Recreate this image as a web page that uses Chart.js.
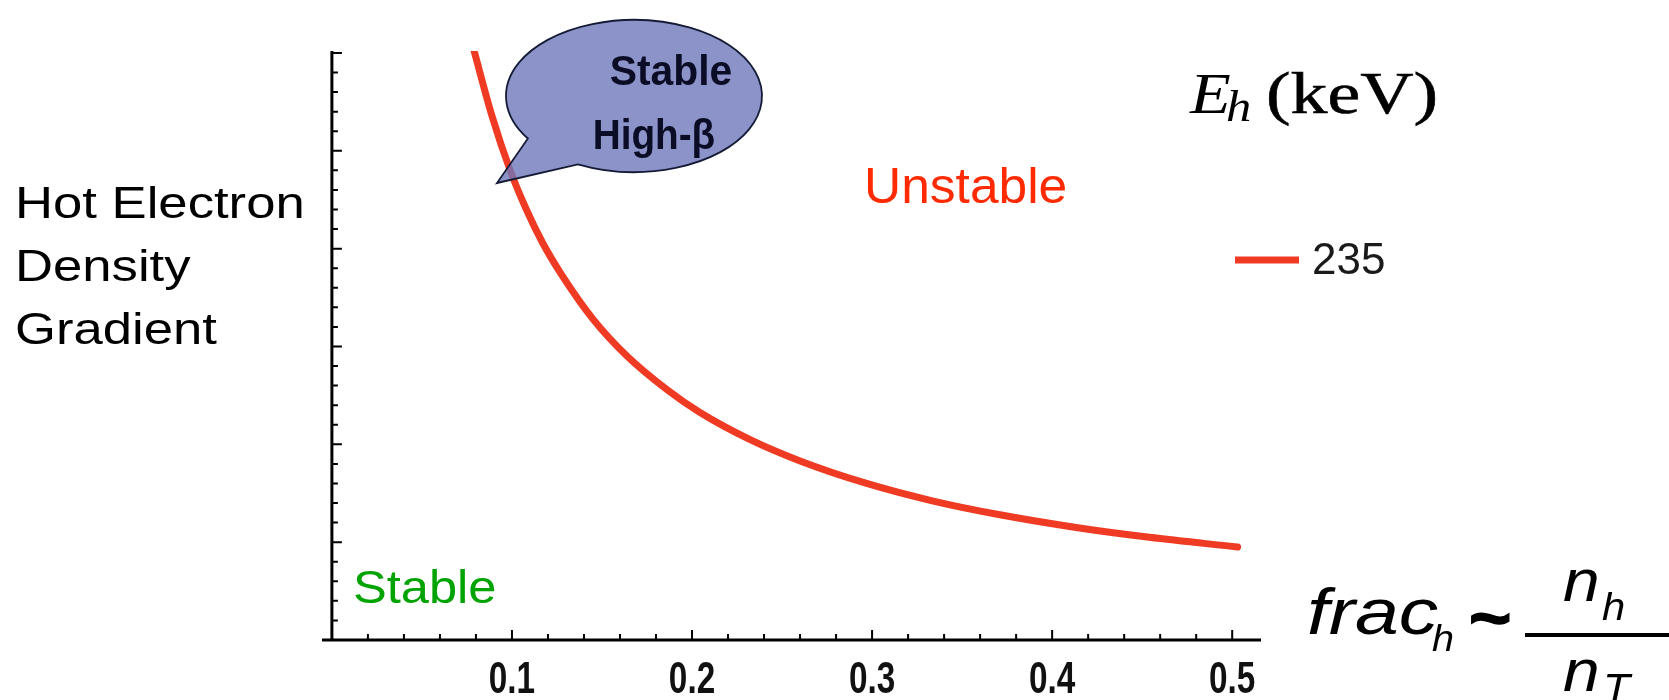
<!DOCTYPE html>
<html lang="en">
<head>
<meta charset="UTF-8">
<title>Hot Electron Density Gradient vs frac_h</title>
<script src="https://cdn.jsdelivr.net/npm/chart.js"></script>
<style>
  html, body { margin: 0; padding: 0; background: #fff; }
  #wrap { width: 1669px; height: 700px; }
</style>
</head>
<body>
<div id="wrap"><canvas id="chart" width="1669" height="700"></canvas></div>
<script>
// curve: x = frac_h, y = gradient (in units of the major y ticks, no labels shown)
const fracH = [0.079, 0.089, 0.099, 0.108, 0.117, 0.127, 0.145, 0.164, 0.186, 0.204, 0.232, 0.260, 0.297, 0.334, 0.371, 0.417, 0.454, 0.503];
const gradient = [6.02, 5.35, 4.80, 4.40, 4.06, 3.75, 3.28, 2.90, 2.56, 2.33, 2.05, 1.83, 1.60, 1.42, 1.28, 1.14, 1.05, 0.95];
const seriesLabels = ["235"];

// ticks
const xTickLabels = [0.1, 0.2, 0.3, 0.4, 0.5];
const xMinorTicks = [0.02, 0.04, 0.06, 0.08, 0.1, 0.12, 0.14, 0.16, 0.18, 0.2, 0.22, 0.24, 0.26, 0.28, 0.3,
                     0.32, 0.34, 0.36, 0.38, 0.4, 0.42, 0.44, 0.46, 0.48, 0.5];
const yMajorTicks = [1, 2, 3, 4, 5, 6];
const yMinorTicks = [0.2, 0.4, 0.6, 0.8, 1, 1.2, 1.4, 1.6, 1.8, 2, 2.2, 2.4, 2.6, 2.8, 3,
                     3.2, 3.4, 3.6, 3.8, 4, 4.2, 4.4, 4.6, 4.8, 5, 5.2, 5.4, 5.6, 5.8, 6];

const lineColor = '#ef3b24';
const sans = "'Liberation Sans', Arial, sans-serif";
const serif = "'Liberation Serif', 'Times New Roman', serif";

// text drawn with a horizontal scale (the picture is stretched sideways)
function stretchText(ctx, str, x, y, font, color, sx, align, stroke) {
    ctx.save();
    ctx.font = font;
    ctx.fillStyle = color;
    ctx.textAlign = align || 'left';
    ctx.textBaseline = 'alphabetic';
    ctx.translate(x, y);
    ctx.scale(sx, 1);
    ctx.fillText(str, 0, 0);
    if (stroke) {
        ctx.strokeStyle = color;
        ctx.lineWidth = stroke;
        ctx.strokeText(str, 0, 0);
    }
    ctx.restore();
}

// Mathematica style axes: crossing at the origin, ticks pointing inwards
const axesPlugin = {
    id: 'axes',
    beforeDatasetsDraw(chart) {
        const { ctx, chartArea, scales: { x, y } } = chart;
        const x0 = x.getPixelForValue(0);
        const y0 = y.getPixelForValue(0);
        ctx.save();
        ctx.strokeStyle = '#000';
        ctx.lineWidth = 3;
        ctx.beginPath();
        ctx.moveTo(chartArea.left, y0);
        ctx.lineTo(chartArea.right, y0);
        ctx.moveTo(x0, y0 + 1);
        ctx.lineTo(x0, chartArea.top);
        ctx.stroke();

        ctx.lineWidth = 2;
        ctx.beginPath();
        xMinorTicks.forEach(v => {
            const px = x.getPixelForValue(v);
            const len = xTickLabels.includes(v) ? 10 : 6;
            ctx.moveTo(px, y0);
            ctx.lineTo(px, y0 - len);
        });
        yMinorTicks.forEach(v => {
            const py = y.getPixelForValue(v);
            const len = yMajorTicks.includes(v) ? 10 : 6;
            ctx.moveTo(x0, py);
            ctx.lineTo(x0 + len, py);
        });
        ctx.stroke();
        ctx.restore();

        // condensed tick labels under the x axis
        xTickLabels.forEach(v => {
            stretchText(ctx, v.toFixed(1), x.getPixelForValue(v), 693, 'bold 45px ' + sans, '#111', 0.74, 'center');
        });
    }
};

// the "Stable High-β" speech bubble, half see-through over the curve
const bubblePlugin = {
    id: 'bubble',
    afterDatasetsDraw(chart) {
        const ctx = chart.ctx;
        const cx = 634, cy = 96, rx = 128, ry = 76;
        const tip = [497, 183];
        const a1 = 116 * Math.PI / 180;
        const a2 = 146 * Math.PI / 180;
        ctx.save();
        ctx.beginPath();
        ctx.moveTo(tip[0], tip[1]);
        ctx.lineTo(cx + rx * Math.cos(a1), cy + ry * Math.sin(a1));
        ctx.ellipse(cx, cy, rx, ry, 0, a1, a2, true);
        ctx.closePath();
        ctx.fillStyle = 'rgba(110, 120, 186, 0.8)';
        ctx.fill();
        ctx.lineWidth = 1.8;
        ctx.strokeStyle = '#151a36';
        ctx.stroke();
        ctx.restore();
        stretchText(ctx, 'Stable', 671, 85, 'bold 43px ' + sans, '#0b0d26', 0.95, 'center');
        stretchText(ctx, 'High-β', 654, 149, 'bold 43px ' + sans, '#0b0d26', 0.9, 'center');
    }
};

const labelsPlugin = {
    id: 'labels',
    afterDraw(chart) {
        const ctx = chart.ctx;
        // y title
        stretchText(ctx, 'Hot Electron', 15, 218, '45px ' + sans, '#000', 1.17);
        stretchText(ctx, 'Density', 15, 281, '45px ' + sans, '#000', 1.17);
        stretchText(ctx, 'Gradient', 15, 344, '45px ' + sans, '#000', 1.17);

        // regions
        stretchText(ctx, 'Unstable', 864, 203, '50px ' + sans, '#ff2a00', 1.03);
        stretchText(ctx, 'Stable', 353, 603, '46px ' + sans, '#00a300', 1.1);

        // legend
        stretchText(ctx, 'E', 1190, 113, 'italic 58px ' + serif, '#000', 1.15);
        stretchText(ctx, 'h', 1226, 121, 'italic 44px ' + serif, '#000', 1.15);
        stretchText(ctx, '(keV)', 1266, 113, '60px ' + serif, '#000', 1.23, 'left', 0.6);
        ctx.save();
        ctx.strokeStyle = chart.data.datasets[0].borderColor;
        ctx.lineWidth = 7;
        ctx.beginPath();
        ctx.moveTo(1235, 260);
        ctx.lineTo(1299, 260);
        ctx.stroke();
        ctx.restore();
        stretchText(ctx, seriesLabels[0], 1312, 274, '44px ' + sans, '#1a1a1a', 1.0);

        // x title: frac_h ~ n_h / n_T
        stretchText(ctx, 'frac', 1307, 634, 'italic 64px ' + sans, '#000', 1.23);
        stretchText(ctx, 'h', 1432, 651, 'italic 36px ' + sans, '#000', 1.1);
        stretchText(ctx, '~', 1469, 641, 'bold 66px ' + sans, '#000', 1.1, 'left', 1.5);
        ctx.save();
        ctx.strokeStyle = '#000';
        ctx.lineWidth = 4;
        ctx.beginPath();
        ctx.moveTo(1525, 635);
        ctx.lineTo(1669, 635);
        ctx.stroke();
        ctx.restore();
        stretchText(ctx, 'n', 1563, 601, 'italic 60px ' + sans, '#000', 1.1);
        stretchText(ctx, 'h', 1602, 620, 'italic 38px ' + sans, '#000', 1.1);
        stretchText(ctx, 'n', 1563, 691, 'italic 60px ' + sans, '#000', 1.1);
        stretchText(ctx, 'T', 1603, 702, 'italic 40px ' + sans, '#000', 1.1);
    }
};

new Chart(document.getElementById('chart'), {
    type: 'line',
    data: {
        datasets: [{
            label: seriesLabels[0],
            data: fracH.map((v, i) => ({ x: v, y: gradient[i] })),
            borderColor: lineColor,
            borderWidth: 7,
            borderCapStyle: 'round',
            pointRadius: 0,
            cubicInterpolationMode: 'monotone',
            fill: false
        }]
    },
    options: {
        responsive: false,
        animation: false,
        devicePixelRatio: 1,
        layout: { padding: { left: 322, right: 408, top: 51, bottom: 0 } },
        scales: {
            x: {
                type: 'linear',
                min: -0.0055,
                max: 0.5160,
                grid: { display: false, drawTicks: false },
                border: { display: false },
                afterBuildTicks(scale) {
                    scale.ticks = xTickLabels.map(v => ({ value: v }));
                },
                afterFit(scale) {
                    scale.height = 60;
                },
                ticks: { display: false }
            },
            y: {
                type: 'linear',
                display: false,
                min: 0,
                max: 6.02
            }
        },
        plugins: {
            legend: { display: false },
            tooltip: { enabled: false }
        }
    },
    plugins: [axesPlugin, bubblePlugin, labelsPlugin]
});
</script>
</body>
</html>
